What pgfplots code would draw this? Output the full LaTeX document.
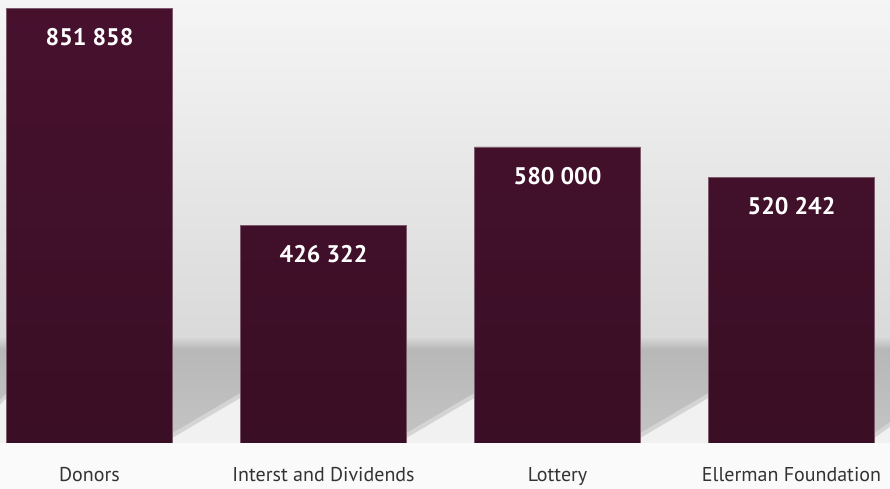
\documentclass[border=0pt]{standalone}
\usepackage{fontspec}
\setmainfont{PT Sans}
\usepackage{pgfplots}
\pgfplotsset{compat=1.18}
\definecolor{bartop}{HTML}{47112E}
\definecolor{barbot}{HTML}{3A0E25}
\definecolor{baredge}{HTML}{7D5A6C}
\definecolor{labelgray}{HTML}{333333}
\definecolor{floorlight}{HTML}{F1F1F1}
\definecolor{floormid}{HTML}{D4D4D4}

\begin{document}
\begin{tikzpicture}
\fill[white!98!black] (0,-34.5pt) rectangle (667.5pt,332.25pt);
\begin{axis}[
  at={(0,0)}, anchor=south west,
  width=667.5pt, height=332.25pt, scale only axis,
  xmin=-0.3825, xmax=3.4209, ymin=0, ymax=868000,
  axis line style={draw=none}, tick style={draw=none},
  ytick=\empty,
  xtick={0,1,2,3},
  xticklabels={Donors, Interst and Dividends, Lottery, Ellerman Foundation},
  xticklabel style={font=\fontsize{15}{18}\selectfont, text=labelgray, yshift=-15pt},
  axis background/.style={shade, top color=white!96!black, bottom color=white!82!black},
]
% floor shadow band
\fill[top color=white!85!black, bottom color=white!72!black]
  (axis cs:-0.3825,184000) rectangle (axis cs:3.4209,207700);
\fill[top color=white!72!black, bottom color=white!77!black]
  (axis cs:-0.3825,0) rectangle (axis cs:3.4209,184000);
% soft edge of the light floor patches
\fill[floormid] (axis cs:-0.3825,0) -- (axis cs:-0.3825,84257) -- (axis cs:-0.3545,97973) -- (axis cs:-0.3545,0) -- cycle;
\fill[floormid] (axis cs:0.3545,0) -- (axis cs:0.3545,19597) -- (axis cs:0.6455,97973) -- (axis cs:0.6455,0) -- cycle;
\fill[floormid] (axis cs:1.3545,0) -- (axis cs:1.3545,19597) -- (axis cs:1.6455,97973) -- (axis cs:1.6455,0) -- cycle;
\fill[floormid] (axis cs:2.3545,0) -- (axis cs:2.3545,19597) -- (axis cs:2.6455,97973) -- (axis cs:2.6455,0) -- cycle;
\fill[floormid] (axis cs:3.3545,0) -- (axis cs:3.3545,19597) -- (axis cs:3.4209,41150) -- (axis cs:3.4209,0) -- cycle;
% light floor patches between the bars
\fill[floorlight] (axis cs:-0.3825,0) -- (axis cs:-0.3825,74457) -- (axis cs:-0.3545,88173) -- (axis cs:-0.3545,0) -- cycle;
\fill[floorlight] (axis cs:0.3545,0) -- (axis cs:0.3545,9797) -- (axis cs:0.6455,88173) -- (axis cs:0.6455,0) -- cycle;
\fill[floorlight] (axis cs:1.3545,0) -- (axis cs:1.3545,9797) -- (axis cs:1.6455,88173) -- (axis cs:1.6455,0) -- cycle;
\fill[floorlight] (axis cs:2.3545,0) -- (axis cs:2.3545,9797) -- (axis cs:2.6455,88173) -- (axis cs:2.6455,0) -- cycle;
\fill[floorlight] (axis cs:3.3545,0) -- (axis cs:3.3545,9797) -- (axis cs:3.4209,31350) -- (axis cs:3.4209,0) -- cycle;

\addplot[ybar, bar width=0.709, draw=baredge, line width=0.4pt,
  top color=bartop, bottom color=barbot,
  nodes near coords, point meta=explicit symbolic,
  every node near coord/.append style={anchor=north, text=white, inner sep=0pt,
    yshift=-15pt, font=\bfseries\fontsize{18}{20}\selectfont}]
coordinates {
  (0,851858) [851 858]
  (1,426322) [426 322]
  (2,580000) [580 000]
  (3,520242) [520 242]
};
\end{axis}
\pgfresetboundingbox
\path[use as bounding box] (0,-34.5pt) rectangle (667.5pt,332.25pt);
\end{tikzpicture}
\end{document}
